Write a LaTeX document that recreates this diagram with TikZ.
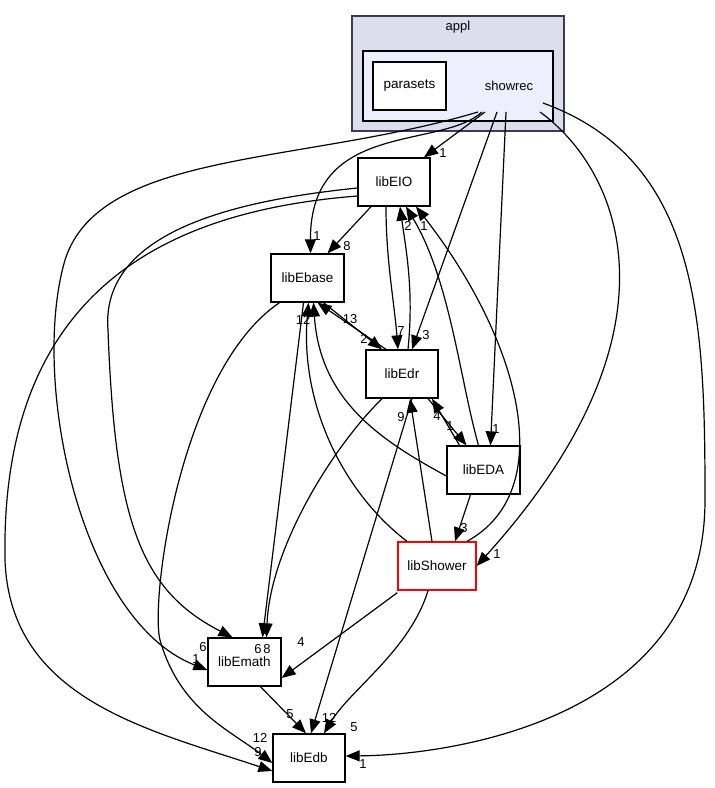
\documentclass[tikz,border=0pt]{standalone}
\usepackage{fontspec}
\setmainfont{Liberation Sans}
\usetikzlibrary{arrows.meta}
\begin{document}
\begin{tikzpicture}[x=1pt,y=-1pt,line width=1.2pt,
  box/.style={draw,line width=1.3pt,fill=white,minimum width=72pt,minimum height=48pt,inner sep=0pt,font=\fontsize{13.5}{15}\selectfont},
  e/.style={draw,-{Triangle[length=14pt,width=11pt]}},
  lb/.style={font=\fontsize{13}{15}\selectfont,inner sep=0pt}]
\useasboundingbox (0,0) rectangle (715,788);
\draw[fill={rgb,255:red,221;green,221;blue,238},draw={rgb,255:red,60;green,60;blue,80}] (352,16) rectangle (564,131);
\node[lb] (appl) at (458,27) {appl};
\draw[fill={rgb,255:red,238;green,238;blue,255}] (363,51) rectangle (553,121);
\node[lb] (showrec) at (509,86) {showrec};
\node[box,minimum width=73pt] (parasets) at (409.5,86) {parasets};
\node[box] (EIO) at (394,182) {libEIO};
\node[box,minimum width=73pt] (Ebase) at (307.5,278) {libEbase};
\node[box] (Edr) at (402,374) {libEdr};
\node[box,minimum width=73pt] (EDA) at (483.5,470) {libEDA};
\node[box,draw=red,minimum width=78pt] (Shower) at (437,566) {libShower};
\node[box,minimum width=73pt] (Emath) at (244.5,662) {libEmath};
\node[box] (Edb) at (309,758) {libEdb};
% from showrec
\draw[e] (485,112) -- ([xshift=30pt]EIO.north);
\node[lb] at (443,153) {1};
\draw[e] (482,112) .. controls (440,150) and (310,120) .. ([xshift=3pt]Ebase.north);
\node[lb] at (317,236) {1};
\draw[e] (497,112) -- ([xshift=10pt]Edr.north);
\node[lb] at (426,335) {3};
\draw[e] (506,112) -- ([xshift=7pt]EDA.north);
\node[lb] at (496,429) {1};
\draw[e] (540,112) .. controls (620,170) and (690,330) .. (Shower.east);
\node[lb] at (497,554) {1};
\draw[e] (543,103) .. controls (700,160) and (705,320) .. (705,500) .. controls (705,720) and (450,755) .. ([yshift=2pt]Edb.east);
\node[lb] at (363,764) {1};
\draw[e] (478,112) .. controls (300,165) and (100,150) .. (65,260) .. controls (30,380) and (80,620) .. ([yshift=-8pt]Emath.west);
\node[lb] at (196,659) {1};
% from libEIO
\draw[e] (EIO) -- ([xshift=20pt]Ebase.north);
\node[lb] at (347,246) {8};
\draw[e] ([xshift=-8pt]EIO.south) .. controls (386,260) and (394,300) .. ([xshift=-4pt]Edr.north);
\node[lb] at (401,331) {7};
\draw[e] ([yshift=-6pt]EIO.west) .. controls (240,200) and (100,230) .. (108,330) .. controls (115,520) and (140,590) .. ([xshift=-12pt]Emath.north);
\node[lb] at (203,647) {6};
\draw[e] ([yshift=-14pt]EIO.west) .. controls (180,210) and (0,280) .. (5,560) .. controls (10,700) and (150,730) .. ([yshift=-13pt]Edb.west);
\node[lb] at (260,738) {12};
% from libEbase
\draw[e] ([xshift=16pt]Ebase.south) -- ([xshift=-20pt]Edr.north);
\node[lb] at (364,339) {2};
\draw[e] ([xshift=-4pt]Ebase.south) -- ([xshift=18pt]Emath.north);
\node[lb] at (258,649) {6};
\draw[e] ([xshift=-28pt]Ebase.south) .. controls (180,370) and (150,600) .. (160,640) .. controls (180,710) and (230,730) .. ([yshift=-5pt]Edb.west);
\node[lb] at (258,752) {9};
% from libEdr
\draw[e] ([xshift=6pt]Edr.north) .. controls (414,290) and (406,250) .. ([xshift=6pt]EIO.south);
\node[lb] at (408,226) {2};
\draw[e] ([xshift=-16pt]Edr.north) -- ([xshift=10pt]Ebase.south);
\node[lb] at (350,319) {13};
\draw[e] ([xshift=-20pt]Edr.south) .. controls (330,450) and (270,550) .. ([xshift=22pt]Emath.north);
\node[lb] at (267,649) {8};
\draw[e] ([xshift=10pt]Edr.south) -- ([xshift=2pt]Edb.north);
\node[lb] at (329,718) {12};
\draw[e] ([xshift=26pt]Edr.south) -- ([xshift=-17pt]EDA.north);
\node[lb] at (450,426) {1};
% from libEDA
\draw[e] ([xshift=-24pt]EDA.north) -- ([xshift=30pt]Edr.south);
\node[lb] at (437,416) {4};
\draw[e] ([xshift=-5pt]EDA.north) .. controls (460,380) and (450,280) .. ([xshift=12pt]EIO.south);
\node[lb] at (424,226) {1};
\draw[e] ([yshift=-6pt]EDA.west) .. controls (380,440) and (320,400) .. ([xshift=6pt]Ebase.south);
\node[lb] at (303,320) {12};
\draw[e] ([xshift=-13pt]EDA.south) -- ([xshift=18pt]Shower.north);
\node[lb] at (464,528) {3};
% from libShower
\draw[e] ([xshift=30pt]Shower.north) .. controls (560,490) and (520,340) .. ([xshift=22pt]EIO.south);
\draw[e] ([xshift=-30pt]Shower.north) .. controls (340,490) and (300,400) .. ([xshift=1pt]Ebase.south);
\draw[e] ([xshift=-5pt]Shower.north) -- ([xshift=8pt]Edr.south);
\node[lb] at (401,417) {9};
\draw[e] ([yshift=-2pt]Shower.south west) -- ([yshift=-16pt]Emath.east);
\node[lb] at (301,642) {4};
\draw[e] ([xshift=-9pt]Shower.south) .. controls (410,650) and (350,690) .. ([xshift=15pt]Edb.north);
\node[lb] at (354,727) {5};
% from libEmath
\draw[e] ([xshift=16pt]Emath.south) -- ([xshift=-3pt]Edb.north);
\node[lb] at (290,714) {5};
\end{tikzpicture}
\end{document}
